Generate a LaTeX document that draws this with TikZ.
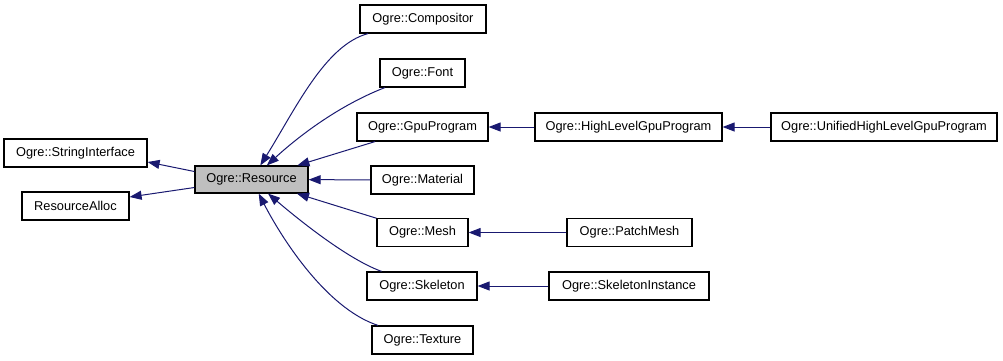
\documentclass[tikz,border=0pt]{standalone}
\usepackage{fontspec}
\setmainfont{Liberation Sans}
\usetikzlibrary{arrows.meta,calc}
\definecolor{edgeblue}{HTML}{191970}
\definecolor{basefill}{HTML}{BFBFBF}
\begin{document}
\begin{tikzpicture}[x=1pt,y=-1pt,
  cls/.style={draw=black,line width=1.2pt,fill=white,inner sep=0pt,
    minimum height=28pt,font=\fontsize{12.8}{14}\selectfont},
  base/.style={cls,fill=basefill},
  inh/.style={draw=edgeblue,line width=1pt,-{Triangle[length=12pt,width=9pt]}}
]
\useasboundingbox (0,0) rectangle (1003,360);

% class boxes
\node[cls,minimum width=126pt] (comp) at (423,19) {Ogre::Compositor};
\node[cls,minimum width=85pt] (font) at (422.5,73) {Ogre::Font};
\node[cls,minimum width=131pt] (gpu) at (422.5,127) {Ogre::GpuProgram};
\node[cls,minimum width=187pt] (hlgpu) at (628.5,127) {Ogre::HighLevelGpuProgram};
\node[cls,minimum width=226pt] (uhlgpu) at (884,127) {Ogre::UnifiedHighLevelGpuProgram};
\node[cls,minimum width=103pt] (mat) at (422.5,180) {Ogre::Material};
\node[cls,minimum width=143pt] (si) at (75.5,153) {Ogre::StringInterface};
\node[cls,minimum width=107pt] (ra) at (75.5,206) {ResourceAlloc};
\node[base,minimum width=113pt,minimum height=27pt] (res) at (251.5,179.5) {Ogre::Resource};
\node[cls,minimum width=91pt] (mesh) at (422.5,232.5) {Ogre::Mesh};
\node[cls,minimum width=125pt] (pmesh) at (629.5,232.5) {Ogre::PatchMesh};
\node[cls,minimum width=110pt] (skel) at (422,286) {Ogre::Skeleton};
\node[cls,minimum width=160pt] (skinst) at (629,286) {Ogre::SkeletonInstance};
\node[cls,minimum width=101pt] (tex) at (422.5,340) {Ogre::Texture};

% inheritance edges
\draw[inh] ($(res.west)+(0,-8)$) -- ($(si.east)+(0,9)$);
\draw[inh] ($(res.west)+(0,8)$) -- ($(ra.east)+(0,-9)$);
\draw[inh] (comp) .. controls (325,45) and (295,110) .. (res);
\draw[inh] (font) .. controls (340,105) and (300,135) .. (res);
\draw[inh] (gpu) -- (res);
\draw[inh] (mat) -- (res);
\draw[inh] (mesh) -- (res);
\draw[inh] (skel) .. controls (350,260) and (305,225) .. (res);
\draw[inh] (tex) .. controls (325,308) and (280,235) .. (res);
\draw[inh] (hlgpu) -- (gpu);
\draw[inh] (uhlgpu) -- (hlgpu);
\draw[inh] (pmesh) -- (mesh);
\draw[inh] (skinst) -- (skel);
\end{tikzpicture}
\end{document}
